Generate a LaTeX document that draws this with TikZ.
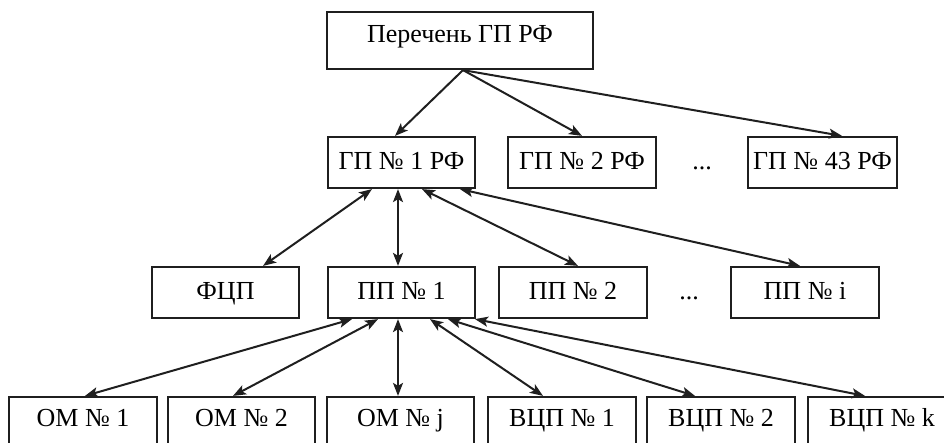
\documentclass[tikz,border=0pt]{standalone}
\usepackage{fontspec}
\setmainfont{Liberation Serif}
\usetikzlibrary{arrows.meta,calc}
\begin{document}
\begin{tikzpicture}[x=1pt,y=-1pt,
  box/.style={draw=black!88,line width=2.2pt,rectangle,minimum width=147pt,minimum height=51pt,inner sep=0pt,text height=19pt,text depth=4pt,font=\fontsize{26}{29}\selectfont},
  lowbox/.style={box,text depth=12pt},
  dots/.style={inner sep=0pt,font=\fontsize{26}{29}\selectfont,anchor=base},
  conn/.style={line width=2pt,draw=black!88,-{Stealth[length=13pt,width=10pt,inset=3pt]}},
  conn2/.style={line width=2pt,draw=black!88,{Stealth[length=13pt,width=10pt,inset=3pt]}-{Stealth[length=13pt,width=10pt,inset=3pt]}}]
\useasboundingbox (0,0) rectangle (944,443);
\clip (0,0) rectangle (944,443);
% top
\node[box,minimum width=266pt,minimum height=57pt,text depth=14pt] (top) at (460,40.5) {Перечень ГП РФ};
% row 2
\node[box] (g1) at (401.5,162.5) {ГП № 1 РФ};
\node[box,minimum width=148pt] (g2) at (582,162.5) {ГП № 2 РФ};
\node[dots] (d1) at (702,170) {...};
\node[box,minimum width=149pt] (g43) at (822.5,162.5) {ГП № 43 РФ};
% row 3
\node[box,text depth=6pt] (f) at (225.5,292.5) {ФЦП};
\node[box,text depth=6pt] (p1) at (401.5,292.5) {ПП № 1};
\node[box,minimum width=148pt,text depth=6pt] (p2) at (573,292.5) {ПП № 2};
\node[dots] (d2) at (689,299) {...};
\node[box,minimum width=148pt,text depth=6pt] (pi) at (805,292.5) {ПП № i};
% row 4
\node[lowbox,minimum width=148pt] (o1) at (83,422.5) {ОМ № 1};
\node[lowbox] (o2) at (241.5,422.5) {ОМ № 2};
\node[lowbox] (oj) at (400.5,422.5) {ОМ № j};
\node[lowbox,minimum width=148pt] (v1) at (562,422.5) {ВЦП № 1};
\node[lowbox,minimum width=148pt] (v2) at (721,422.5) {ВЦП № 2};
\node[lowbox,minimum width=148pt] (vk) at (882,422.5) {ВЦП № k};
% top -> row 2
\draw[conn] ([xshift=3pt]top.south) -- ([xshift=-6.5pt]g1.north);
\draw[conn] ([xshift=3pt]top.south) -- (g2.north);
\draw[conn] ([xshift=3pt]top.south) -- ([xshift=19.5pt]g43.north);
% row 2 <-> row 3
\draw[conn2] ([xshift=-29.5pt]g1.south) -- ([xshift=37.5pt]f.north);
\draw[conn2] ([xshift=-3.5pt]g1.south) -- ([xshift=-3.5pt]p1.north);
\draw[conn2] ([xshift=20.5pt]g1.south) -- ([xshift=5pt]p2.north);
\draw[conn2] ([xshift=58.5pt]g1.south) -- ([xshift=-5pt]pi.north);
% row 3 <-> row 4
\draw[conn2] ([xshift=-49.5pt]p1.south) -- ([xshift=2pt]o1.north);
\draw[conn2] ([xshift=-23.5pt]p1.south) -- ([xshift=-8.5pt]o2.north);
\draw[conn2] ([xshift=-3.5pt]p1.south) -- ([xshift=-2.5pt]oj.north);
\draw[conn2] ([xshift=28.5pt]p1.south) -- ([xshift=-19pt]v1.north);
\draw[conn2] ([xshift=46.5pt]p1.south) -- ([xshift=-26pt]v2.north);
\draw[conn2] ([xshift=73.5pt]p1.south) -- ([xshift=-17pt]vk.north);
\end{tikzpicture}
\end{document}
